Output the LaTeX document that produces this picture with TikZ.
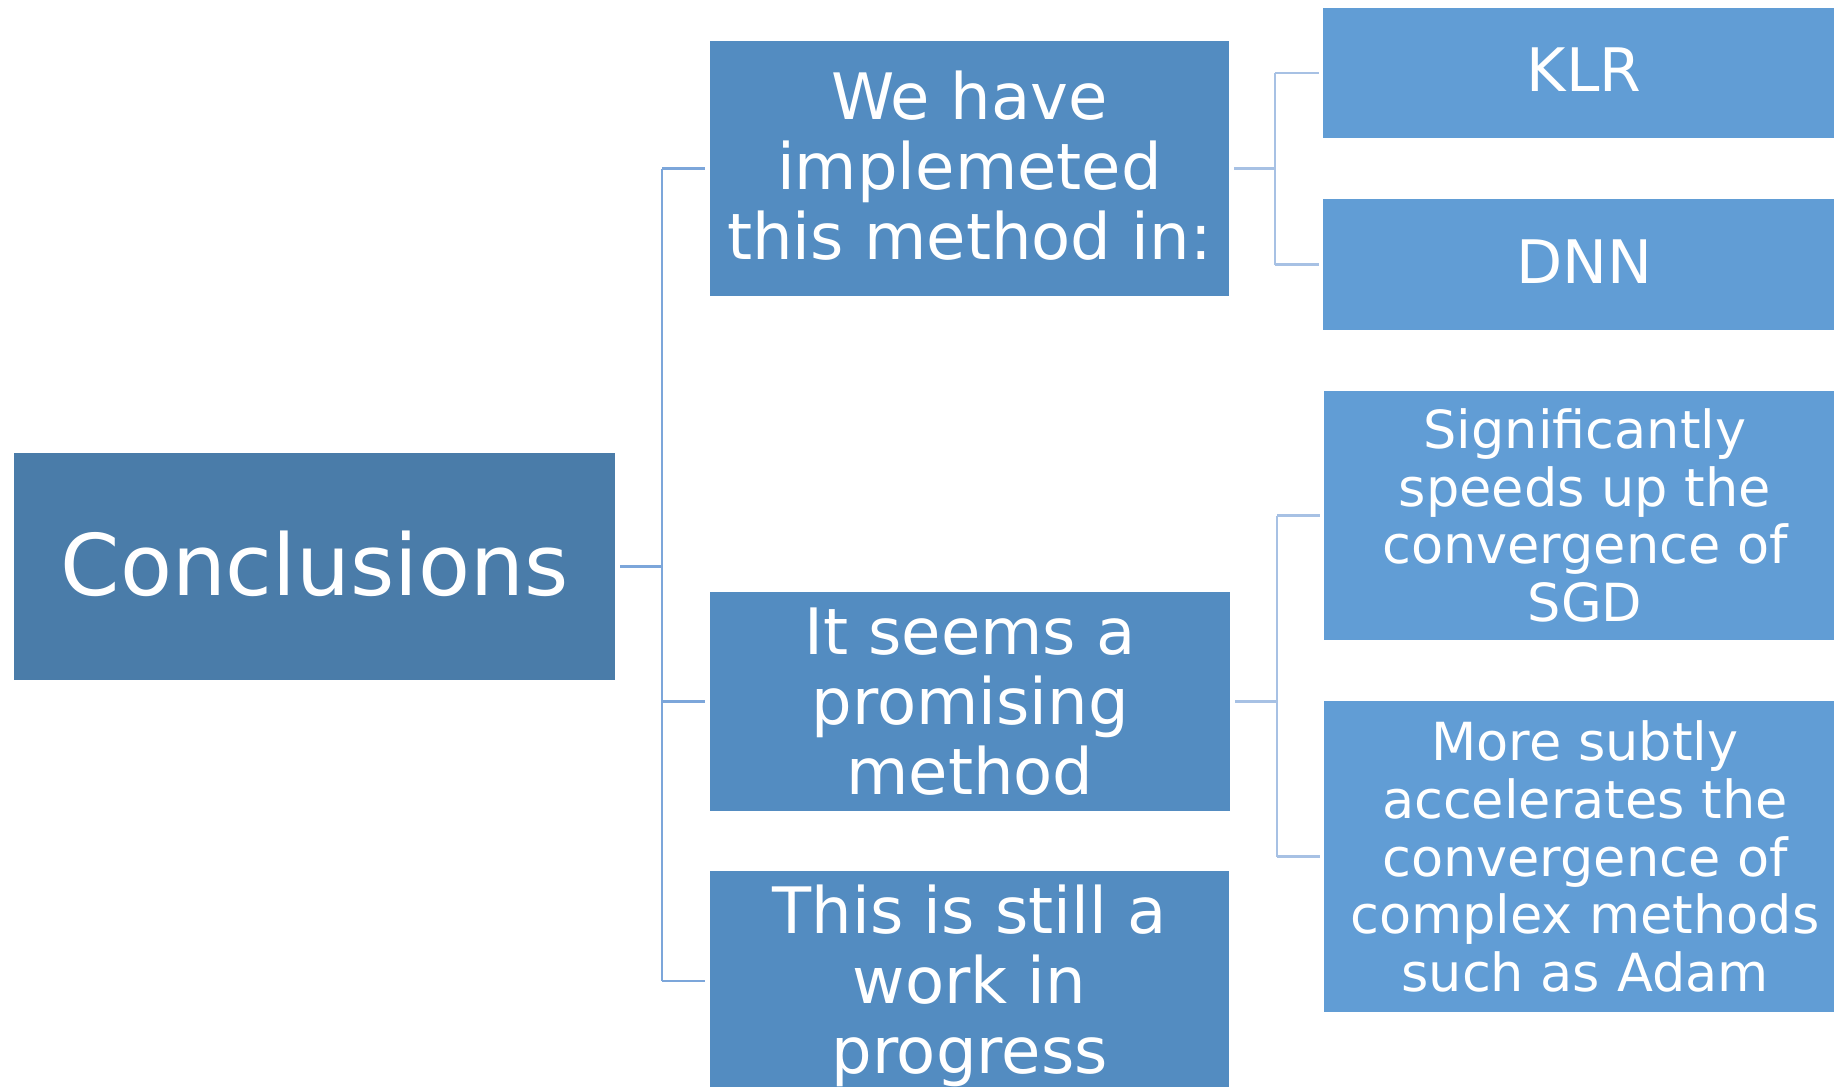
\documentclass[tikz,border=0pt]{standalone}
\usepackage{fontspec}
\setmainfont{DejaVu Sans}
\usetikzlibrary{calc}
\definecolor{concfill}{RGB}{74,124,169}
\definecolor{midfill}{RGB}{83,140,193}
\definecolor{leaffill}{RGB}{97,157,213}
\definecolor{linedark}{RGB}{124,166,218}
\definecolor{linelight}{RGB}{167,193,228}
\tikzset{
  box/.style={rectangle, inner sep=0pt, outer sep=0pt, text=white, align=center, draw=none},
  concbox/.style={box, fill=concfill, font=\fontsize{85pt}{92pt}\selectfont},
  midbox/.style={box, fill=midfill, font=\fontsize{64pt}{70pt}\selectfont},
  leafbig/.style={box, fill=leaffill, font=\fontsize{60pt}{66pt}\selectfont},
  leafsmall/.style={box, fill=leaffill, font=\fontsize{52.5pt}{57.7pt}\selectfont},
  connA/.style={draw=linedark, line width=2.6pt},
  connB/.style={draw=linelight, line width=2.6pt},
}
\begin{document}
\begin{tikzpicture}[x=1pt,y=-1pt]
\useasboundingbox (0,0) rectangle (1834,1087);

% root
\node[concbox, text depth=7pt, minimum width=601pt, minimum height=227pt] (conc) at (314.5,566.5) {Conclusions};

% second level
\node[midbox, text depth=7pt, minimum width=519pt, minimum height=255pt] (m1) at (969.5,168.5) {We have\\implemeted\\this method in:};
\node[midbox, minimum width=520pt, minimum height=219pt] (m2) at (970,701.5) {It seems a\\promising\\method};
\node[midbox, minimum width=519pt, minimum height=230pt] (m3) at (969.5,986) {This is still a\\work in\\progress};

% third level
\node[leafbig, text depth=6pt, minimum width=522pt, minimum height=130pt] (klr) at (1584,73) {KLR};
\node[leafbig, text depth=6pt, minimum width=522pt, minimum height=131pt] (dnn) at (1584,264.5) {DNN};
\node[leafsmall, minimum width=522pt, minimum height=249pt] (sig) at (1585,515.5) {Significantly\\speeds up the\\convergence of\\SGD};
\node[leafsmall, minimum width=522pt, minimum height=311pt] (more) at (1585,856.5) {More subtly\\accelerates the\\convergence of\\complex methods\\such as Adam};

% junction points of the bracket connectors
\coordinate (j0) at (662,566.5);
\coordinate (j1) at (1275,168.5);
\coordinate (j2) at (1277,701.5);
% the last branch meets the lower box a little above its centre
\coordinate (m3in) at ([yshift=5pt]m3.west);

% root to second level
\draw[connA] ([xshift=5pt]conc.east) -- (j0);
\draw[connA] (m1.west -| j0) -- (m3in -| j0);
\draw[connA] (m1.west -| j0) -- ([xshift=-5pt]m1.west);
\draw[connA] (m2.west -| j0) -- ([xshift=-5pt]m2.west);
\draw[connA] (m3in -| j0) -- ([xshift=-5pt]m3in);

% first group of leaves
\draw[connB] ([xshift=5pt]m1.east) -- (j1);
\draw[connB] (klr.west -| j1) -- (dnn.west -| j1);
\draw[connB] (klr.west -| j1) -- ([xshift=-4pt]klr.west);
\draw[connB] (dnn.west -| j1) -- ([xshift=-4pt]dnn.west);

% second group of leaves
\draw[connB] ([xshift=5pt]m2.east) -- (j2);
\draw[connB] (sig.west -| j2) -- (more.west -| j2);
\draw[connB] (sig.west -| j2) -- ([xshift=-4pt]sig.west);
\draw[connB] (more.west -| j2) -- ([xshift=-4pt]more.west);
\end{tikzpicture}
\end{document}
